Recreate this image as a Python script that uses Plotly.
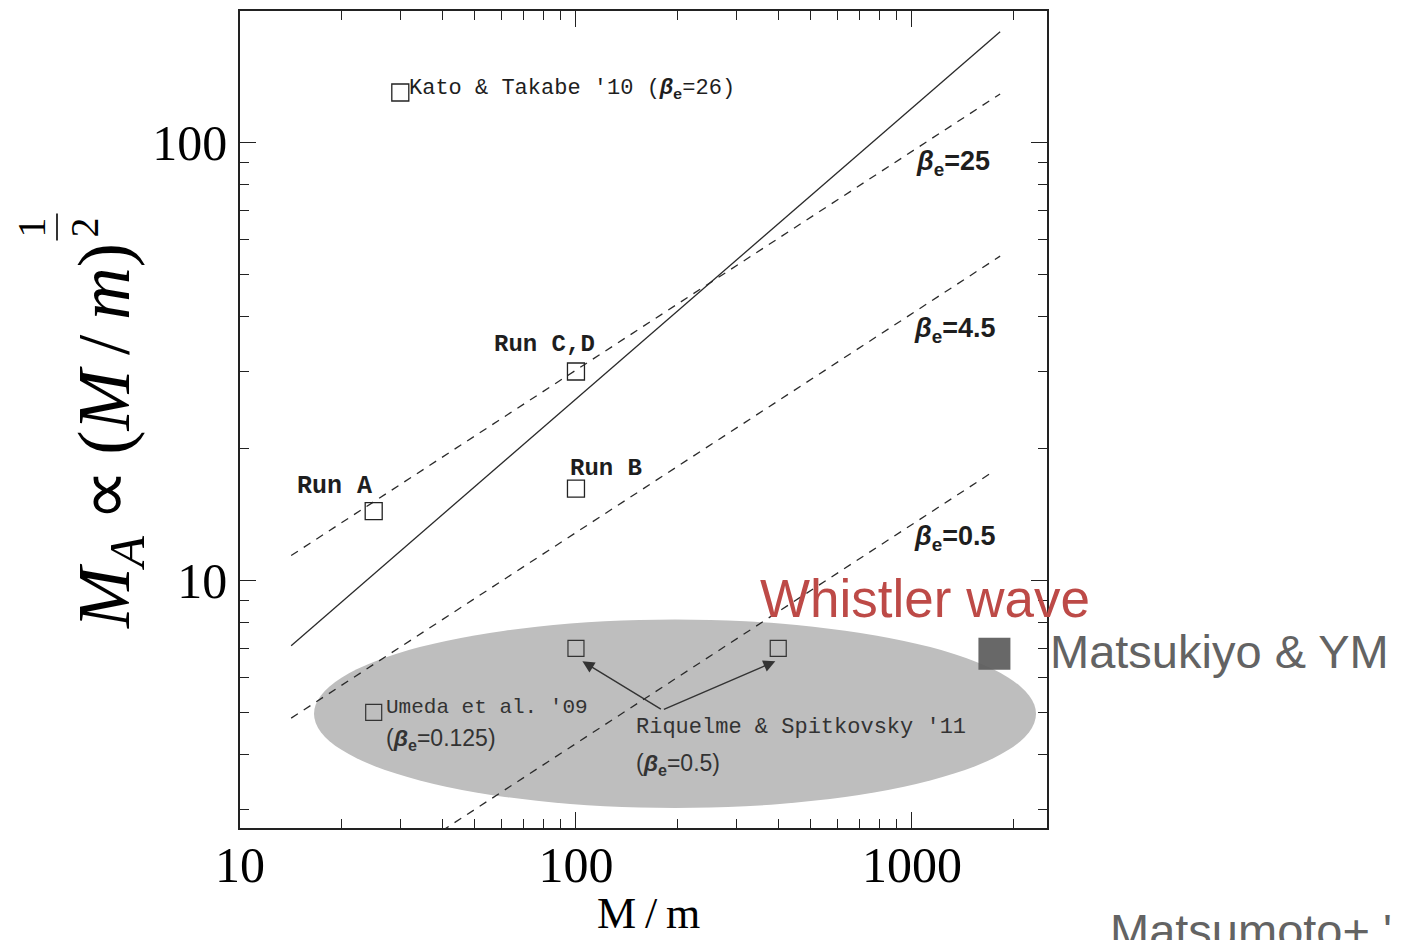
import math
import plotly.graph_objects as go

# ---------------- data ----------------
solid_x = [14.2, 1830]
solid_y = [7.1, 179]
beta25_x = [14.2, 1830]
beta25_y = [11.4, 129]
beta45_x = [14.2, 1830]
beta45_y = [4.85, 55.0]
beta05_x = [14.2, 1760]
beta05_y = [1.6, 17.8]

runs_x = [25, 100, 100]
runs_y = [14.4, 30, 16.2]
kato_x = [30]
kato_y = [130]
umeda_x = [25]
umeda_y = [5.0]
riq_x = [100, 400]
riq_y = [7.0, 7.0]
matsukiyo_x = [1760]
matsukiyo_y = [6.8]

x_ticks = [10, 100, 1000]
y_ticks = [10, 100]

# ---------------- layout helpers ----------------
W, H = 1403, 940
OFF = 8  # page body margin offset
PL, PR, PT, PB = 240 - OFF, 1047 - OFF, 9 - OFF, 828 - OFF


def px(x):
    return (x - OFF - PL) / (PR - PL)


def py(y):
    return (PB - (y - OFF)) / (PB - PT)


fig = go.Figure()

line_col = "#2a2a2a"
fig.add_trace(go.Scatter(x=solid_x, y=solid_y, mode="lines",
                         line=dict(color=line_col, width=1.3)))
for xs, ys in [(beta25_x, beta25_y), (beta45_x, beta45_y), (beta05_x, beta05_y)]:
    fig.add_trace(go.Scatter(x=xs, y=ys, mode="lines",
                             line=dict(color=line_col, width=1.3, dash="8px,7px")))

open_sq = dict(symbol="square-open", size=17, color="#222222", line=dict(width=1.3))
fig.add_trace(go.Scatter(x=runs_x, y=runs_y, mode="markers", marker=open_sq))
fig.add_trace(go.Scatter(x=kato_x, y=kato_y, mode="markers", marker=open_sq))
small_sq = dict(symbol="square-open", size=16, color="#333333", line=dict(width=1.2))
fig.add_trace(go.Scatter(x=umeda_x, y=umeda_y, mode="markers", marker=small_sq))
fig.add_trace(go.Scatter(x=riq_x, y=riq_y, mode="markers", marker=small_sq))
fig.add_trace(go.Scatter(x=matsukiyo_x, y=matsukiyo_y, mode="markers",
                         marker=dict(symbol="square", size=32, color="#5c5c5c",
                                     opacity=0.93, line=dict(width=0))))

# grey ellipse (below traces)
fig.add_shape(type="circle", xref="paper", yref="paper",
              x0=px(314), x1=px(1036), y0=py(808), y1=py(619),
              fillcolor="#bebebe", line=dict(width=0), layer="below")

# fraction bar of the y-title
fig.add_shape(type="line", xref="paper", yref="paper",
              x0=px(57), x1=px(57), y0=py(239), y1=py(212),
              line=dict(color="black", width=1.6))

ann = []
mono = "Liberation Mono"
sans = "Liberation Sans"
serif = "Liberation Serif"
BE = "<i>β</i><sub>e</sub>"
TS = "\u2009"


def txt(text, x, y, size, family, color="#1e1e1e", xanchor="left", angle=0):
    ann.append(dict(text=text, x=px(x), y=py(y), xref="paper", yref="paper",
                    xanchor=xanchor, yanchor="middle", showarrow=False,
                    textangle=angle,
                    font=dict(size=size, family=family, color=color)))


txt("Kato &amp; Takabe '10 (<b>" + BE + "</b>=26)", 407, 88, 22, mono)
txt("<b>Run C,D</b>", 544, 343, 24, mono, xanchor="center")
txt("<b>Run A</b>", 334, 486, 25, mono, xanchor="center")
txt("<b>Run B</b>", 606, 468, 24, mono, xanchor="center")
txt("<b>" + BE + "=25</b>", 914, 161, 27, sans)
txt("<b>" + BE + "=4.5</b>", 912, 329, 27, sans)
txt("<b>" + BE + "=0.5</b>", 912, 537, 27, sans)
txt("Umeda et al. '09", 384, 707, 21, mono, color="#333333")
txt("(<b>" + BE + "</b>=0.125)", 384, 739, 23, sans, color="#333333")
txt("Riquelme &amp; Spitkovsky '11", 634, 727, 22, mono, color="#333333")
txt("(<b>" + BE + "</b>=0.5)", 634, 764, 23, sans, color="#333333")

txt("Whistler wave", 758, 598, 53, sans, color="#bd4a47")
txt("Matsukiyo &amp; YM", 1048, 651, 47, sans, color="#636363")
txt("Matsumoto+ '12", 1108, 931, 47, sans, color="#636363")

# axis titles
txt("<i>M</i><sub><i>A</i></sub>" + TS + "∝" + TS + "(<i>M</i>" + TS + "/" + TS + "<i>m</i>)",
    110, 435, 73, serif, color="black", xanchor="center", angle=-90)
txt("1", 31, 226, 40, serif, color="black", xanchor="center", angle=-90)
txt("2", 84, 226, 40, serif, color="black", xanchor="center", angle=-90)
txt("M" + TS + "/" + TS + "m", 648, 914, 44, serif, color="black", xanchor="center")

# arrows (Riquelme & Spitkovsky)
tail = (180.8, 5.06)
for hx, hy in [(104.5, 6.54), (392, 6.54)]:
    ann.append(dict(x=math.log10(hx), y=math.log10(hy), xref="x", yref="y",
                    ax=math.log10(tail[0]), ay=math.log10(tail[1]),
                    axref="x", ayref="y", text="", showarrow=True,
                    arrowhead=2, arrowsize=1.7, arrowwidth=1.4,
                    arrowcolor="#333333"))

axis_common = dict(
    type="log", showgrid=False, zeroline=False,
    showline=True, linecolor="#222222", linewidth=1.6, mirror="ticks",
    ticks="inside", ticklen=16, tickwidth=1.3, tickcolor="#222222",
    minor=dict(ticks="inside", ticklen=9, tickwidth=1.1, tickcolor="#222222",
               dtick="D1", showgrid=False),
    tickfont=dict(family=serif, size=50, color="black"),
)

fig.update_layout(
    width=W, height=H,
    margin=dict(l=PL, r=W - PR, t=PT, b=H - PB),
    plot_bgcolor="white", paper_bgcolor="white",
    showlegend=False,
    annotations=ann,
    xaxis=dict(axis_common, range=[1.0, 3.402], tickvals=x_ticks,
               ticktext=[str(v) for v in x_ticks], ticklabelstandoff=-8),
    yaxis=dict(axis_common, range=[0.435, 2.300], tickvals=y_ticks,
               ticktext=[str(v) for v in y_ticks], ticklabelstandoff=1),
)

fig.write_html("out.html")
